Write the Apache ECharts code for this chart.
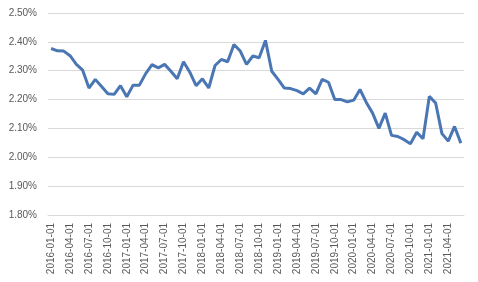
<!DOCTYPE html>
<html>
<head>
<meta charset="utf-8">
<script src="https://cdn.jsdelivr.net/npm/echarts@6/dist/echarts.min.js"></script>
<style>
    html, body { margin: 0; padding: 0; background: #fff; }
    #chart { width: 478px; height: 282px; }
</style>
</head>
<body>
<div id="chart"></div>
<script>
// 月份 2016-01 ~ 2021-06
var months = [];
for (var y = 2016; y <= 2021; y++) {
    for (var m = 1; m <= 12; m++) {
        if (y === 2021 && m > 6) break;
        months.push(y + '-' + (m < 10 ? '0' + m : m) + '-01');
    }
}

// 数值, 单位 %
var rates = [
    2.377, 2.369, 2.368, 2.352, 2.322, 2.302, 2.240, 2.270, 2.245, 2.220, 2.218, 2.248,
    2.210, 2.250, 2.250, 2.290, 2.321, 2.310, 2.322, 2.298, 2.272, 2.331, 2.295, 2.248,
    2.272, 2.240, 2.318, 2.339, 2.331, 2.391, 2.368, 2.322, 2.351, 2.345, 2.405, 2.298,
    2.270, 2.240, 2.238, 2.231, 2.220, 2.240, 2.220, 2.270, 2.260, 2.200, 2.200, 2.192,
    2.198, 2.235, 2.190, 2.153, 2.100, 2.153, 2.076, 2.072, 2.061, 2.047, 2.087, 2.064,
    2.211, 2.188, 2.082, 2.056, 2.107, 2.049
];

var yMin = 1.8, yMax = 2.5, yStep = 0.1;

var myChart = echarts.init(document.getElementById('chart'));
myChart.setOption({
    animation: false,
    grid: { left: 48, right: 14, top: 13, bottom: 67 },
    xAxis: {
        type: 'category',
        data: months,
        boundaryGap: true,
        axisLine: { lineStyle: { color: '#d9d9d9' } },
        axisTick: { interval: 2, length: 5, lineStyle: { color: '#d9d9d9' } },
        axisLabel: {
            interval: 2,
            rotate: 90,
            margin: 8,
            color: '#595959',
            fontSize: 10,
            fontFamily: 'Liberation Sans'
        }
    },
    yAxis: {
        type: 'value',
        min: yMin,
        max: yMax,
        interval: yStep,
        axisLine: { show: false },
        axisTick: { show: false },
        splitLine: { lineStyle: { color: '#d9d9d9' } },
        axisLabel: {
            margin: 11,
            color: '#595959',
            fontSize: 10,
            fontFamily: 'Liberation Sans',
            formatter: function (v) { return v.toFixed(2) + '%'; }
        }
    },
    series: [{
        type: 'line',
        data: rates,
        symbol: 'none',
        lineStyle: { color: '#4a77b4', width: 3 }
    }]
});
</script>
</body>
</html>
